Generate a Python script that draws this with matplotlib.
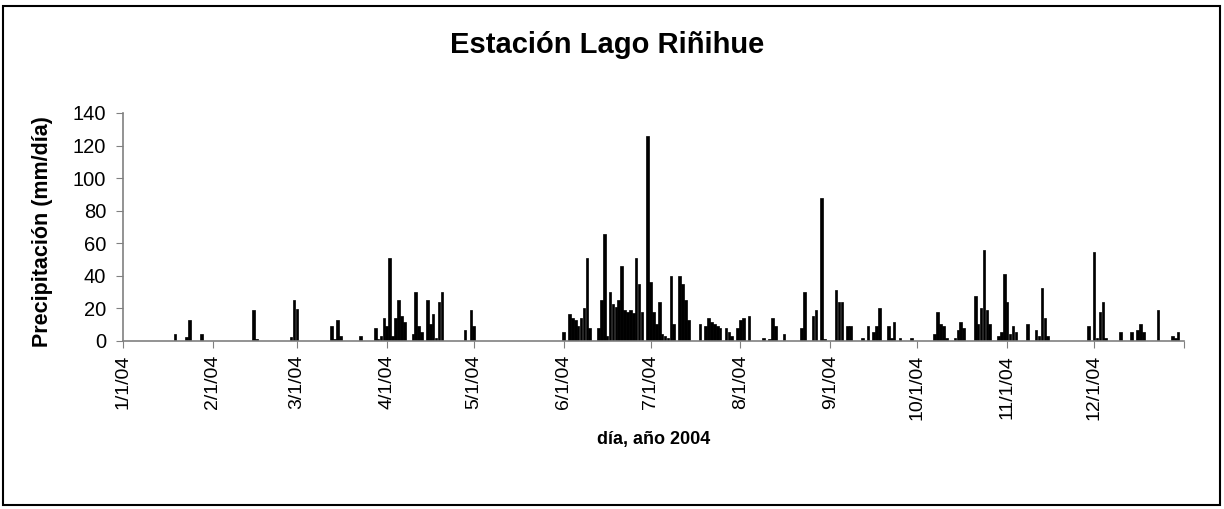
import numpy as np
import matplotlib
matplotlib.use("Agg")
import matplotlib.pyplot as plt
from matplotlib.patches import Rectangle

plt.rcParams['font.family'] = ['Liberation Sans', 'DejaVu Sans']

# day of year (0 = 1 Jan 2004) and daily precipitation (mm/dia)
day_of_year = [18, 22, 23, 27, 45, 46, 58, 59, 60,
               72, 73, 74, 75, 82, 87, 88, 89, 90, 91, 92, 93, 94, 95, 96, 97,
               100, 101, 102, 103, 105, 106, 107, 108, 109, 110, 118, 120, 121,
               152, 154, 155, 156, 157, 158, 159, 160, 161, 164, 165, 166, 167,
               168, 169, 170, 171, 172, 173, 174, 175, 176, 177, 178, 179, 181,
               182, 183, 184, 185, 186, 187, 188, 189, 190, 192, 193, 194, 195,
               199, 201, 202, 203, 204, 205, 206, 208, 209, 210, 212, 213, 214, 216,
               221, 223, 224, 225, 228, 234, 235, 238, 239, 241, 242,
               246, 247, 248, 250, 251, 255, 257, 259, 260, 261, 264, 265, 266, 268, 272,
               280, 281, 282, 283, 284, 287, 288, 289, 290, 294, 295, 296, 297, 298, 299,
               302, 303, 304, 305, 306, 307, 308, 312, 315, 316, 317, 318, 319,
               333, 335, 336, 337, 338, 339, 344, 348, 350, 351, 352, 357, 362, 363, 364]
precip = [4.3, 2.5, 12.7, 4, 18.8, 1.2, 2.5, 25, 19.8,
          9, 1.5, 12.7, 2.8, 2.8, 7.7, 1.5, 2.8, 13.9, 9, 50.7, 2.8, 13.9, 25, 15.1, 11.5,
          4, 30, 9, 5.3, 25, 10.2, 16.4, 2, 23.7, 30, 6.5, 18.8, 9,
          5.3, 16.4, 14.3, 12.7, 9.4, 14, 20, 50.7, 7.8, 7.8, 25, 65.4, 2.9,
          29.9, 22.5, 21, 25, 45.8, 18.8, 17.6, 18.8, 17, 50.7, 34.8, 17.6, 125.6,
          36, 17.6, 10.2, 23.7, 4.5, 2.9, 2, 39.7, 10.2, 39.7, 34.8, 25, 12.7,
          10.2, 9, 13.9, 11.9, 10.2, 9, 8.2, 7.8, 5.3, 2.9, 7.8, 12.7, 13.9, 15.1,
          1.6, 1, 13.9, 9, 4.1, 7.8, 29.9, 15.1, 18.8, 87.5, 1.3,
          31, 23.7, 23.7, 9, 9, 1.6, 9, 5.3, 9, 20, 9, 2, 11.5, 1.6, 1.6,
          4.1, 17.6, 10.2, 9, 1.6, 1.6, 6.5, 11.5, 7.8, 27.4, 10.2, 20, 55.6, 18.8, 10.2,
          2.9, 5.3, 40.9, 23.7, 4, 9, 5.3, 10.2, 6.5, 2.9, 32.3, 13.9, 2.9,
          9, 54.4, 1.6, 17.6, 23.7, 1.6, 5.3, 5.3, 6.5, 10.2, 5.3, 18.8, 2.9, 1.6, 5.3]

y_ticks = [0, 20, 40, 60, 80, 100, 120, 140]

start = np.datetime64('2004-01-01')
dates = start + np.array(day_of_year).astype('timedelta64[D]')
month_starts = np.arange('2004-01', '2005-02', dtype='datetime64[M]').astype('datetime64[D]')
month_labels = []
for m in month_starts[:-1]:
    y, mo, d = str(m).split('-')
    month_labels.append(f"{int(mo)}/{int(d)}/{y[2:]}")
month_labels.append("")

fig = plt.figure(figsize=(12.24, 5.09), dpi=100)
ax = fig.add_axes([0.1005, 0.3301, 0.8668, 0.4479])

ax.bar(dates, precip, width=0.9, color='black', edgecolor='black', linewidth=0.5)

ax.set_xlim(month_starts[0], month_starts[-1])
ax.set_ylim(0, 140)
ax.set_yticks(y_ticks)
ax.set_xticks(month_starts)
ax.set_xticklabels(month_labels, rotation=90, fontsize=14)
ax.tick_params(axis='y', labelsize=14.5, length=5, color='#808080', pad=7)
ax.tick_params(axis='x', length=5, color='#808080', pad=5)

for s in ['top', 'right']:
    ax.spines[s].set_visible(False)
for s in ['left', 'bottom']:
    ax.spines[s].set_color('#808080')
    ax.spines[s].set_linewidth(1.2)

ax.set_ylabel('Precipitación (mm/día)', fontsize=15.5, fontweight='bold')
ax.yaxis.set_label_coords(-0.066, 0.48)
ax.set_xlabel('día, año 2004', fontsize=13, fontweight='bold')
ax.xaxis.set_label_coords(0.5, -0.395)

fig.text(0.496, 0.912, 'Estación Lago Riñihue', ha='center', va='center',
         fontsize=21, fontweight='bold')

fig.patches.append(Rectangle((0.0025, 0.0079), 0.9942, 0.98, transform=fig.transFigure,
                             fill=False, edgecolor='black', linewidth=1.5))

fig.savefig('out.png', dpi=100)
